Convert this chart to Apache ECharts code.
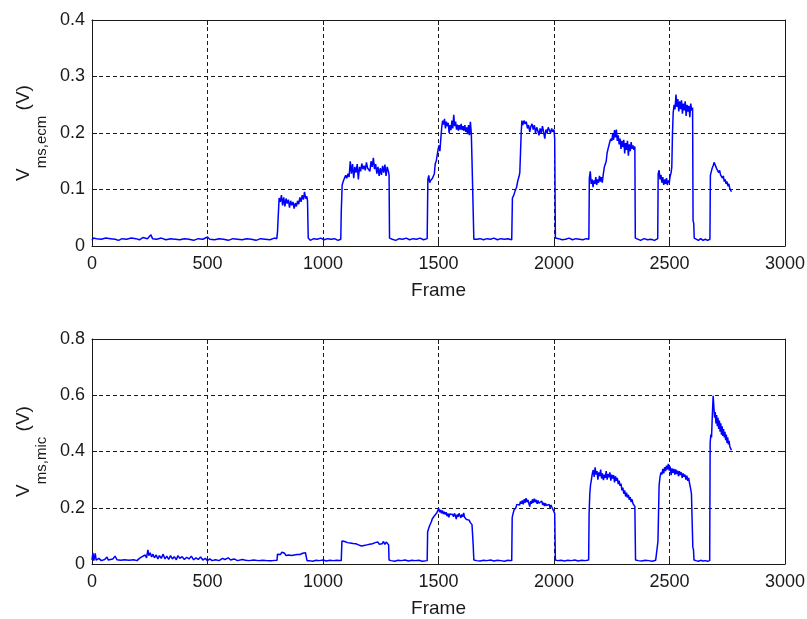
<!DOCTYPE html>
<html>
<head>
<meta charset="utf-8">
<script src="https://cdn.jsdelivr.net/npm/echarts@6/dist/echarts.min.js"></script>
<style>
  html, body { margin: 0; background: #fff; }
  #chart { width: 807px; height: 619px; }
</style>
</head>
<body>
<div id="chart"></div>
<script>
// tick labels
const frameTicks = [0, 500, 1000, 1500, 2000, 2500, 3000];
const ecmTicks = [0, 0.1, 0.2, 0.3, 0.4];
const micTicks = [0, 0.2, 0.4, 0.6, 0.8];

// [frame, V] (ECM)
const ecmData = [
  [0,0.010],[5,0.014],[20,0.013],[40,0.012],[60,0.014],[80,0.013],[100,0.012],[115,0.010],[130,0.013],[150,0.012],
  [170,0.014],[190,0.013],[205,0.011],[220,0.015],[240,0.013],[255,0.020],[262,0.013],[280,0.012],[300,0.014],[320,0.011],
  [340,0.013],[360,0.012],[380,0.011],[400,0.013],[420,0.012],[440,0.010],[460,0.013],[480,0.012],[500,0.016],[510,0.012],
  [530,0.011],[550,0.013],[570,0.012],[590,0.010],[610,0.013],[630,0.012],[650,0.011],[670,0.013],[690,0.012],[710,0.010],
  [730,0.013],[750,0.012],[770,0.011],[790,0.014],[800,0.013],
  [803,0.025],[808,0.026],[810,0.085],[815,0.078],[820,0.090],[825,0.072],[830,0.086],[835,0.070],[840,0.084],[845,0.075],
  [850,0.082],[855,0.068],[860,0.080],[865,0.072],[870,0.078],[875,0.066],[880,0.076],[885,0.070],[890,0.080],[895,0.074],
  [900,0.086],[905,0.078],[910,0.090],[915,0.082],[920,0.096],[925,0.084],[930,0.088],[933,0.080],[936,0.014],
  [945,0.010],[960,0.013],[975,0.012],[990,0.014],[1005,0.011],[1020,0.013],[1035,0.012],[1050,0.013],[1065,0.010],[1077,0.012],
  [1079,0.060],[1083,0.108],[1088,0.115],[1093,0.112],[1098,0.125],[1103,0.120],[1108,0.128],[1113,0.122],[1118,0.150],[1123,0.128],
  [1128,0.145],[1133,0.120],[1138,0.140],[1143,0.130],[1148,0.145],[1153,0.118],[1158,0.140],[1163,0.132],[1168,0.146],[1173,0.136],
  [1178,0.142],[1183,0.134],[1188,0.148],[1193,0.138],[1198,0.140],[1203,0.132],[1208,0.150],[1213,0.140],[1218,0.156],[1223,0.136],
  [1228,0.145],[1233,0.128],[1238,0.140],[1243,0.124],[1248,0.138],[1253,0.126],[1258,0.142],[1263,0.130],[1268,0.144],[1273,0.124],
  [1278,0.140],[1283,0.132],[1286,0.126],[1288,0.014],
  [1300,0.012],[1315,0.010],[1330,0.013],[1345,0.012],[1360,0.014],[1375,0.011],[1390,0.013],[1405,0.012],[1420,0.014],[1435,0.011],[1451,0.013],
  [1454,0.118],[1458,0.125],[1462,0.112],[1466,0.116],[1470,0.113],[1474,0.120],[1478,0.118],[1482,0.128],[1486,0.146],[1490,0.150],
  [1494,0.160],[1498,0.170],[1502,0.178],[1506,0.168],[1510,0.190],[1514,0.210],[1518,0.222],[1522,0.215],[1526,0.225],[1530,0.208],
  [1534,0.220],[1538,0.212],[1542,0.218],[1546,0.200],[1550,0.214],[1554,0.205],[1558,0.222],[1562,0.208],[1566,0.232],[1570,0.212],
  [1574,0.220],[1578,0.206],[1582,0.215],[1586,0.204],[1590,0.214],[1594,0.206],[1598,0.216],[1602,0.205],[1606,0.212],[1610,0.204],
  [1614,0.214],[1618,0.202],[1622,0.210],[1626,0.198],[1630,0.214],[1634,0.196],[1638,0.220],[1642,0.200],[1645,0.152],[1650,0.150],[1653,0.012],
  [1665,0.012],[1680,0.013],[1695,0.011],[1710,0.013],[1725,0.012],[1740,0.014],[1755,0.011],[1770,0.013],[1785,0.012],[1800,0.013],[1817,0.011],
  [1820,0.085],[1826,0.090],[1832,0.098],[1838,0.104],[1843,0.115],[1848,0.122],[1852,0.130],[1855,0.165],[1858,0.200],[1861,0.222],
  [1865,0.214],[1870,0.222],[1875,0.216],[1880,0.220],[1885,0.208],[1890,0.214],[1895,0.202],[1900,0.212],[1905,0.216],[1910,0.206],
  [1915,0.214],[1920,0.200],[1925,0.210],[1930,0.204],[1935,0.196],[1940,0.208],[1945,0.200],[1950,0.212],[1955,0.202],[1960,0.190],
  [1965,0.206],[1970,0.200],[1975,0.210],[1980,0.205],[1985,0.200],[1990,0.208],[1995,0.202],[2000,0.206],[2003,0.190],[2006,0.014],
  [2020,0.013],[2035,0.011],[2050,0.012],[2065,0.014],[2080,0.011],[2095,0.013],[2110,0.012],[2125,0.011],[2140,0.013],[2151,0.012],
  [2153,0.120],[2157,0.132],[2161,0.110],[2165,0.118],[2169,0.104],[2173,0.116],[2177,0.110],[2181,0.122],[2185,0.108],[2189,0.118],
  [2193,0.112],[2197,0.124],[2201,0.114],[2205,0.122],[2209,0.112],[2213,0.126],[2218,0.140],[2222,0.138],[2226,0.150],[2230,0.165],
  [2234,0.172],[2238,0.170],[2242,0.185],[2246,0.190],[2250,0.186],[2254,0.198],[2258,0.188],[2262,0.205],[2266,0.192],[2270,0.206],
  [2274,0.186],[2278,0.196],[2282,0.180],[2286,0.190],[2290,0.172],[2294,0.186],[2298,0.175],[2302,0.188],[2306,0.164],[2310,0.182],
  [2314,0.170],[2318,0.186],[2322,0.160],[2326,0.180],[2330,0.168],[2334,0.184],[2338,0.172],[2342,0.178],[2346,0.170],[2350,0.176],[2352,0.014],
  [2360,0.012],[2375,0.010],[2390,0.013],[2405,0.011],[2420,0.012],[2435,0.010],[2449,0.013],
  [2451,0.128],[2455,0.134],[2459,0.118],[2463,0.126],[2467,0.112],[2471,0.122],[2475,0.108],[2479,0.118],[2483,0.110],[2487,0.120],
  [2491,0.108],[2495,0.116],[2499,0.112],[2503,0.124],[2507,0.130],[2510,0.140],[2513,0.200],[2516,0.236],[2520,0.250],[2524,0.242],
  [2528,0.268],[2532,0.246],[2536,0.260],[2540,0.238],[2544,0.256],[2548,0.242],[2552,0.258],[2556,0.234],[2560,0.252],[2564,0.240],
  [2568,0.256],[2572,0.230],[2576,0.250],[2580,0.238],[2584,0.248],[2588,0.228],[2592,0.252],[2596,0.240],[2600,0.245],[2602,0.045],
  [2605,0.040],[2607,0.014],
  [2615,0.012],[2625,0.010],[2635,0.013],[2645,0.010],[2655,0.012],[2665,0.010],[2675,0.012],
  [2677,0.125],[2681,0.132],[2685,0.138],[2689,0.142],[2693,0.148],[2697,0.144],[2701,0.140],[2705,0.136],[2709,0.138],[2713,0.130],
  [2717,0.134],[2721,0.126],[2725,0.128],[2729,0.120],[2733,0.124],[2737,0.114],[2741,0.118],[2745,0.110],[2749,0.114],[2753,0.106],
  [2757,0.110],[2761,0.102],[2765,0.104],[2768,0.096]
];

// [frame, V] (microphone)
const micData = [
  [0,0.015],[4,0.040],[8,0.012],[14,0.038],[18,0.014],[30,0.020],[40,0.012],[55,0.016],[65,0.025],[70,0.014],
  [90,0.018],[100,0.028],[108,0.015],[125,0.013],[140,0.015],[160,0.013],[180,0.015],[195,0.012],[205,0.020],[215,0.025],
  [222,0.018],[230,0.032],[236,0.022],[242,0.050],[246,0.030],[252,0.040],[258,0.025],[264,0.035],[270,0.022],[278,0.032],
  [285,0.018],[292,0.030],[300,0.020],[308,0.035],[316,0.018],[324,0.028],[332,0.016],[340,0.030],[348,0.018],[356,0.026],
  [365,0.015],[372,0.030],[380,0.020],[390,0.026],[400,0.016],[410,0.024],[420,0.018],[430,0.028],[440,0.015],[450,0.022],
  [460,0.016],[470,0.025],[480,0.014],[490,0.020],[500,0.012],[510,0.018],[520,0.012],[535,0.015],[550,0.012],[565,0.020],
  [575,0.016],[590,0.022],[600,0.014],[615,0.018],[630,0.012],[650,0.016],[665,0.013],[680,0.012],[700,0.014],[720,0.012],
  [740,0.013],[760,0.012],[780,0.012],[801,0.013],
  [803,0.035],[810,0.040],[816,0.034],[822,0.042],[828,0.036],[834,0.038],[840,0.030],[846,0.036],[852,0.032],[858,0.038],
  [864,0.030],[870,0.034],[876,0.032],[882,0.036],[888,0.034],[894,0.038],[900,0.034],[906,0.036],[912,0.038],[918,0.034],
  [924,0.040],[929,0.035],[931,0.012],
  [940,0.012],[955,0.010],[970,0.013],[985,0.012],[1000,0.014],[1015,0.011],[1030,0.013],[1045,0.012],[1060,0.013],[1079,0.012],
  [1082,0.082],[1088,0.078],[1094,0.080],[1100,0.074],[1106,0.076],[1112,0.072],[1118,0.075],[1124,0.070],[1130,0.073],[1136,0.068],
  [1142,0.072],[1148,0.074],[1154,0.068],[1160,0.072],[1166,0.064],[1172,0.070],[1178,0.066],[1184,0.072],[1190,0.068],[1196,0.074],
  [1202,0.070],[1208,0.076],[1214,0.072],[1220,0.070],[1226,0.076],[1232,0.072],[1238,0.078],[1244,0.070],[1250,0.076],[1256,0.072],
  [1262,0.080],[1268,0.070],[1274,0.078],[1280,0.072],[1284,0.068],[1286,0.014],
  [1295,0.012],[1310,0.010],[1325,0.013],[1340,0.012],[1355,0.014],[1370,0.011],[1385,0.013],[1400,0.012],[1415,0.013],[1430,0.010],[1451,0.012],
  [1453,0.115],[1457,0.125],[1461,0.135],[1465,0.142],[1469,0.150],[1473,0.160],[1477,0.165],[1481,0.170],[1485,0.176],[1489,0.172],
  [1493,0.182],[1497,0.186],[1501,0.198],[1505,0.184],[1509,0.192],[1513,0.180],[1517,0.190],[1521,0.178],[1525,0.186],[1529,0.176],
  [1533,0.184],[1537,0.170],[1541,0.180],[1545,0.166],[1549,0.178],[1553,0.172],[1557,0.184],[1561,0.176],[1565,0.168],[1569,0.180],
  [1573,0.172],[1577,0.160],[1581,0.176],[1585,0.168],[1589,0.180],[1593,0.172],[1597,0.164],[1601,0.176],[1605,0.168],[1609,0.182],
  [1613,0.166],[1617,0.172],[1621,0.158],[1625,0.162],[1629,0.152],[1633,0.156],[1637,0.148],[1641,0.152],[1645,0.140],[1648,0.145],
  [1650,0.070],[1653,0.014],
  [1665,0.012],[1680,0.011],[1695,0.013],[1710,0.012],[1725,0.014],[1740,0.011],[1755,0.013],[1770,0.012],[1785,0.010],[1800,0.013],[1817,0.012],
  [1819,0.165],[1823,0.180],[1827,0.192],[1831,0.186],[1835,0.200],[1839,0.212],[1843,0.206],[1847,0.218],[1851,0.210],[1855,0.222],
  [1859,0.214],[1863,0.226],[1867,0.212],[1871,0.230],[1875,0.218],[1879,0.234],[1883,0.220],[1887,0.228],[1891,0.216],[1895,0.204],
  [1899,0.224],[1903,0.214],[1907,0.230],[1911,0.218],[1915,0.232],[1919,0.220],[1923,0.228],[1927,0.214],[1931,0.226],[1935,0.216],
  [1939,0.222],[1943,0.212],[1947,0.224],[1951,0.210],[1955,0.218],[1959,0.206],[1963,0.216],[1967,0.208],[1971,0.214],[1975,0.204],
  [1979,0.212],[1983,0.200],[1987,0.210],[1991,0.202],[1995,0.206],[1999,0.198],[2003,0.180],[2006,0.014],
  [2015,0.012],[2030,0.013],[2045,0.011],[2060,0.013],[2075,0.012],[2090,0.014],[2105,0.011],[2120,0.013],[2135,0.012],[2150,0.014],
  [2152,0.180],[2155,0.250],[2158,0.280],[2162,0.300],[2166,0.322],[2170,0.334],[2174,0.310],[2178,0.344],[2182,0.318],[2186,0.330],
  [2190,0.300],[2194,0.326],[2198,0.312],[2202,0.336],[2206,0.304],[2210,0.322],[2214,0.298],[2218,0.318],[2222,0.306],[2226,0.330],
  [2230,0.300],[2234,0.320],[2238,0.308],[2242,0.326],[2246,0.296],[2250,0.318],[2254,0.304],[2258,0.316],[2262,0.290],[2266,0.312],
  [2270,0.296],[2274,0.306],[2278,0.284],[2282,0.296],[2286,0.278],[2290,0.286],[2294,0.262],[2298,0.272],[2302,0.250],[2306,0.262],
  [2310,0.240],[2314,0.254],[2318,0.236],[2322,0.246],[2326,0.228],[2330,0.238],[2334,0.220],[2338,0.230],[2342,0.214],[2346,0.220],
  [2350,0.205],[2353,0.014],
  [2365,0.012],[2380,0.011],[2395,0.013],[2410,0.012],[2425,0.010],[2440,0.013],[2448,0.012],
  [2450,0.080],[2453,0.085],[2455,0.280],[2459,0.310],[2463,0.326],[2467,0.318],[2471,0.338],[2475,0.322],[2479,0.344],[2483,0.330],
  [2487,0.350],[2491,0.336],[2495,0.356],[2499,0.332],[2503,0.346],[2507,0.316],[2511,0.340],[2515,0.324],[2519,0.338],[2523,0.318],
  [2527,0.336],[2531,0.320],[2535,0.332],[2539,0.312],[2543,0.330],[2547,0.316],[2551,0.326],[2555,0.306],[2559,0.322],[2563,0.310],
  [2567,0.318],[2571,0.300],[2575,0.314],[2579,0.296],[2583,0.306],[2587,0.286],[2591,0.270],[2595,0.250],[2599,0.256],[2601,0.060],
  [2604,0.050],[2606,0.014],
  [2615,0.012],[2625,0.010],[2635,0.013],[2645,0.011],[2655,0.012],[2665,0.010],[2674,0.012],
  [2676,0.430],[2679,0.460],[2682,0.450],[2685,0.520],[2689,0.598],[2692,0.560],[2695,0.520],[2698,0.540],[2701,0.500],[2704,0.530],
  [2707,0.490],[2710,0.520],[2713,0.480],[2716,0.510],[2719,0.470],[2722,0.500],[2725,0.460],[2728,0.490],[2731,0.455],[2734,0.480],
  [2737,0.450],[2740,0.470],[2743,0.440],[2746,0.460],[2749,0.430],[2752,0.450],[2755,0.425],[2758,0.438],[2761,0.418],[2764,0.425],
  [2768,0.405]
];

const font = 'Liberation Sans, Arial, sans-serif';
const ink = '#1a1a1a';

function axisOf(ticks, gridIndex, position, withLabels) {
  const isX = position === 'bottom' || position === 'top';
  return {
    type: 'value',
    gridIndex: gridIndex,
    position: position,
    min: ticks[0],
    max: ticks[ticks.length - 1],
    interval: ticks[1] - ticks[0],
    axisLine: { show: true, onZero: false, lineStyle: { color: ink, width: 1 } },
    axisTick: { show: true, inside: true, length: 5, lineStyle: { color: ink } },
    axisLabel: {
      show: withLabels,
      color: ink,
      fontFamily: font,
      fontSize: 18,
      margin: isX ? 9 : 7,
      formatter: (v) => String(v)
    },
    splitLine: {
      show: withLabels,
      lineStyle: { color: '#1a1a1a', type: [4, 3], width: 1 }
    }
  };
}

function yName(sub) {
  return {
    name: '{v|V}{s|' + sub + '}{v| (V)}',
    nameLocation: 'middle',
    nameRotate: 90,
    nameGap: 57,
    nameTextStyle: {
      rich: {
        v: { fontSize: 19, fontFamily: font, color: ink, lineHeight: 22 },
        s: { fontSize: 15, fontFamily: font, color: ink, lineHeight: 15, padding: [36, 0, 0, 0] }
      }
    }
  };
}

const xName = {
  name: 'Frame',
  nameLocation: 'middle',
  nameGap: 35,
  nameTextStyle: { fontSize: 19, fontFamily: font, color: ink }
};

const chart = echarts.init(document.getElementById('chart'), null, { renderer: 'canvas' });

chart.setOption({
  backgroundColor: '#fff',
  animation: false,
  grid: [
    { left: 92, top: 20, width: 693, height: 226, outerBoundsMode: 'none', containLabel: false },
    { left: 92, top: 339, width: 693, height: 225, outerBoundsMode: 'none', containLabel: false }
  ],
  xAxis: [
    Object.assign(axisOf(frameTicks, 0, 'bottom', true), xName),
    axisOf(frameTicks, 0, 'top', false),
    Object.assign(axisOf(frameTicks, 1, 'bottom', true), xName),
    axisOf(frameTicks, 1, 'top', false)
  ],
  yAxis: [
    Object.assign(axisOf(ecmTicks, 0, 'left', true), yName('ms,ecm')),
    axisOf(ecmTicks, 0, 'right', false),
    Object.assign(axisOf(micTicks, 1, 'left', true), yName('ms,mic')),
    axisOf(micTicks, 1, 'right', false)
  ],
  series: [
    {
      type: 'line', xAxisIndex: 0, yAxisIndex: 0, data: ecmData,
      showSymbol: false, symbol: 'none', z: 5,
      lineStyle: { color: '#0000ff', width: 1.5 }
    },
    {
      type: 'line', xAxisIndex: 2, yAxisIndex: 2, data: micData,
      showSymbol: false, symbol: 'none', z: 5,
      lineStyle: { color: '#0000ff', width: 1.5 }
    }
  ]
});
</script>
</body>
</html>
